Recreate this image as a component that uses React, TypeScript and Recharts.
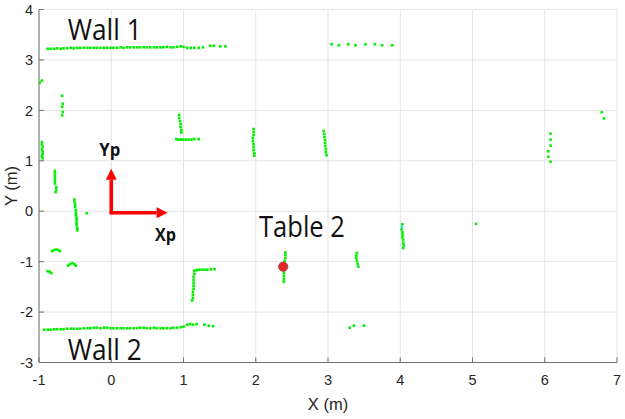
import { ScatterChart, Scatter, XAxis, YAxis, CartesianGrid, ReferenceLine, ReferenceDot } from "recharts";

type Pt = { x: number; y: number };

const xTicks = [-1, 0, 1, 2, 3, 4, 5, 6, 7];
const yTicks = [-3, -2, -1, 0, 1, 2, 3, 4];

const toPts = (rows: number[][]): Pt[] => rows.map(([x, y]) => ({ x, y }));

// scan points
const wall1 = toPts([
  [-0.88, 3.22], [-0.84, 3.22], [-0.79, 3.22], [-0.75, 3.23], [-0.70, 3.22], [-0.66, 3.23], [-0.61, 3.23],
  [-0.56, 3.24], [-0.52, 3.23], [-0.47, 3.24], [-0.43, 3.24], [-0.38, 3.24], [-0.33, 3.24], [-0.29, 3.24],
  [-0.24, 3.24], [-0.20, 3.24], [-0.15, 3.24], [-0.10, 3.24], [-0.06, 3.24], [-0.01, 3.24], [0.03, 3.24],
  [0.08, 3.24], [0.13, 3.25], [0.17, 3.24], [0.22, 3.25], [0.26, 3.25], [0.31, 3.25], [0.36, 3.25],
  [0.40, 3.25], [0.45, 3.25], [0.49, 3.25], [0.54, 3.25], [0.59, 3.25], [0.63, 3.25], [0.68, 3.25],
  [0.72, 3.25], [0.77, 3.26], [0.82, 3.25], [0.86, 3.25], [0.91, 3.26], [0.96, 3.27], [1.00, 3.26],
  [1.05, 3.24], [1.10, 3.24], [1.15, 3.24], [1.21, 3.24], [1.27, 3.25], [1.37, 3.28], [1.42, 3.28],
  [1.51, 3.27], [1.58, 3.27],
]);

const wall2 = toPts([
  [-0.93, -2.35], [-0.88, -2.35], [-0.84, -2.35], [-0.79, -2.34], [-0.75, -2.34], [-0.70, -2.34], [-0.66, -2.34],
  [-0.61, -2.33], [-0.56, -2.33], [-0.52, -2.33], [-0.47, -2.33], [-0.43, -2.33], [-0.38, -2.32], [-0.33, -2.32],
  [-0.29, -2.32], [-0.24, -2.31], [-0.20, -2.31], [-0.15, -2.32], [-0.10, -2.31], [-0.06, -2.31], [-0.01, -2.32],
  [0.03, -2.32], [0.08, -2.32], [0.13, -2.32], [0.17, -2.32], [0.22, -2.32], [0.26, -2.32], [0.31, -2.32],
  [0.36, -2.32], [0.40, -2.31], [0.45, -2.31], [0.49, -2.32], [0.54, -2.32], [0.59, -2.31], [0.63, -2.32],
  [0.68, -2.32], [0.72, -2.32], [0.77, -2.32], [0.82, -2.32], [0.86, -2.31], [0.91, -2.31], [0.96, -2.30],
  [1.00, -2.29], [1.05, -2.25], [1.09, -2.24], [1.13, -2.25], [1.18, -2.24], [1.29, -2.25], [1.35, -2.27],
  [1.41, -2.28],
]);

const leftClutter = toPts([
  [-0.99, 2.55], [-0.96, 2.59],
  [-0.68, 2.29], [-0.67, 2.13], [-0.68, 2.07], [-0.67, 1.97], [-0.68, 1.90],
  [-0.96, 1.37], [-0.96, 1.32], [-0.95, 1.27], [-0.96, 1.22], [-0.95, 1.18], [-0.95, 1.13], [-0.96, 1.09], [-0.95, 1.05],
  [-0.78, 0.80], [-0.78, 0.75], [-0.78, 0.70], [-0.78, 0.65], [-0.78, 0.60], [-0.78, 0.55], [-0.76, 0.48],
  [-0.76, 0.43], [-0.77, 0.38],
  [-0.51, 0.23], [-0.51, 0.18], [-0.50, 0.13], [-0.50, 0.08], [-0.49, 0.02], [-0.49, -0.03], [-0.49, -0.08],
  [-0.48, -0.13], [-0.48, -0.18], [-0.48, -0.23], [-0.48, -0.28], [-0.47, -0.33], [-0.47, -0.38],
  [-0.34, -0.04],
  [-0.82, -0.79], [-0.79, -0.77], [-0.76, -0.76], [-0.73, -0.77], [-0.71, -0.79],
  [-0.60, -1.08], [-0.57, -1.05], [-0.54, -1.03], [-0.51, -1.05], [-0.49, -1.08],
  [-0.88, -1.19], [-0.85, -1.20], [-0.83, -1.23],
]);

const upperCorner = toPts([
  [0.94, 1.91], [0.94, 1.85], [0.95, 1.79], [0.96, 1.73], [0.96, 1.67], [0.97, 1.61], [0.97, 1.56],
  [0.90, 1.43], [0.93, 1.42], [0.96, 1.42], [0.99, 1.42], [1.03, 1.42], [1.07, 1.42], [1.11, 1.42],
  [1.15, 1.43], [1.21, 1.43],
]);

const lowerCorner = toPts([
  [1.15, -1.18], [1.15, -1.24], [1.14, -1.30], [1.14, -1.36], [1.14, -1.42], [1.14, -1.48], [1.14, -1.54],
  [1.13, -1.60], [1.13, -1.66], [1.13, -1.72], [1.12, -1.77],
  [1.18, -1.17], [1.21, -1.16], [1.25, -1.16], [1.29, -1.16], [1.33, -1.16], [1.38, -1.15], [1.43, -1.15],
]);

const posts = toPts([
  [1.97, 1.63], [1.97, 1.57], [1.97, 1.51], [1.96, 1.45], [1.96, 1.39], [1.97, 1.33], [1.97, 1.27],
  [1.97, 1.21], [1.98, 1.15], [1.98, 1.10],
  [2.94, 1.59], [2.95, 1.53], [2.95, 1.47], [2.96, 1.41], [2.96, 1.35], [2.96, 1.29], [2.97, 1.23],
  [2.97, 1.17], [2.98, 1.11],
  [6.08, 1.54], [6.08, 1.42], [6.08, 1.30], [6.05, 1.19], [6.05, 1.08], [6.08, 0.98],
  [6.79, 1.96], [6.82, 1.84],
]);

const table2Scan = toPts([
  [2.41, -0.82], [2.41, -0.87], [2.41, -0.93], [2.40, -0.99], [2.40, -1.05], [2.40, -1.17],
  [2.39, -1.23], [2.39, -1.29], [2.39, -1.35], [2.39, -1.40],
]);

const rightClutter = toPts([
  [3.05, 3.31], [3.15, 3.29], [3.28, 3.31], [3.38, 3.29], [3.52, 3.31], [3.65, 3.31], [3.75, 3.29], [3.89, 3.29],
  [3.40, -0.83], [3.39, -0.88], [3.39, -0.93], [3.40, -0.98], [3.41, -1.04], [3.42, -1.10],
  [4.03, -0.26], [4.02, -0.36], [4.03, -0.42], [4.03, -0.47], [4.03, -0.52],
  [4.04, -0.57], [4.04, -0.63], [4.05, -0.68], [4.04, -0.73],
  [5.05, -0.25],
  [3.30, -2.31], [3.36, -2.27], [3.50, -2.27],
]);

const oddPoint = toPts([[4.02, -0.31]]);
const table2Centre = toPts([[2.38, -1.10]]);

const greenSets = [wall1, wall2, leftClutter, upperCorner, lowerCorner, posts, table2Scan, rightClutter];

const GreenDot = (p: any) => <rect x={p.cx - 1.3} y={p.cy - 1.3} width={2.6} height={2.6} fill="#00f000" />;
const CyanDot = (p: any) => <rect x={p.cx - 1.3} y={p.cy - 1.3} width={2.6} height={2.6} fill="#3fe6e0" />;
const RedDot = (p: any) => <circle cx={p.cx} cy={p.cy} r={4.6} fill="#dd2626" stroke="#b84040" strokeWidth={1} />;

const Arrow = (p: any) => {
  const { x1, y1, x2, y2 } = p;
  const dx = x2 - x1;
  const dy = y2 - y1;
  const len = Math.hypot(dx, dy) || 1;
  const ux = dx / len;
  const uy = dy / len;
  const head = 11;
  const half = 5.5;
  const bx = x2 - ux * head;
  const by = y2 - uy * head;
  return (
    <g>
      <line x1={x1} y1={y1} x2={bx} y2={by} stroke="#ff0000" strokeWidth={3.6} />
      <polygon
        points={`${x2},${y2} ${bx - uy * half},${by + ux * half} ${bx + uy * half},${by - ux * half}`}
        fill="#ff0000"
      />
    </g>
  );
};

const note = (text: string, size: number, width: number, bold = false) => (p: any) => (
  <text
    x={p.cx}
    y={p.cy}
    textAnchor="middle"
    fontFamily="'Open Sans', sans-serif"
    fontSize={size}
    fontWeight={bold ? 700 : 400}
    textLength={width}
    lengthAdjust="spacingAndGlyphs"
    fill="#111"
  >
    {text}
  </text>
);

const YTitle = (p: any) => {
  const vb = p.viewBox || { x: 0, y: 9.5, width: 39, height: 353 };
  const cx = vb.x + 11;
  const cy = vb.y + vb.height / 2;
  return (
    <text x={cx} y={cy} transform={`rotate(-90, ${cx}, ${cy})`} textAnchor="middle" dominantBaseline="central"
      fontFamily="'Liberation Sans', Arial, sans-serif" fontSize={16.5} fill="#262626">
      Y (m)
    </text>
  );
};

const XTitle = (p: any) => {
  const vb = p.viewBox || { x: 39, y: 362.5, width: 578, height: 50 };
  return (
    <text x={vb.x + vb.width / 2} y={vb.y + 47} textAnchor="middle"
      fontFamily="'Liberation Sans', Arial, sans-serif" fontSize={16.5} fill="#262626">
      X (m)
    </text>
  );
};

const tickStyle = { fill: "#262626", fontSize: 14.5, fontFamily: "'Liberation Sans', Arial, sans-serif" };
const axisStroke = "#707070";

export default function App() {
  return (
    <div style={{ position: "absolute", left: 0, top: 0, background: "#fff" }}>
      <ScatterChart width={625} height={419} margin={{ top: 9.5, right: 8, bottom: 6.5, left: 0 }}>
        <CartesianGrid stroke="#e4e4e4" strokeWidth={1} />
        <XAxis
          type="number"
          dataKey="x"
          domain={[-1, 7]}
          ticks={xTicks}
          allowDataOverflow
          height={50}
          tickSize={-5}
          tickMargin={17}
          tick={tickStyle}
          stroke={axisStroke}
          label={<XTitle />}
        />
        <XAxis xAxisId="top" orientation="top" type="number" dataKey="x" domain={[-1, 7]} ticks={xTicks}
          allowDataOverflow height={0} tickSize={-5} tick={false} stroke={axisStroke} />
        <YAxis
          type="number"
          dataKey="y"
          domain={[-3, 4]}
          ticks={yTicks}
          allowDataOverflow
          width={39}
          tickSize={-5}
          tickMargin={11}
          tick={tickStyle}
          stroke={axisStroke}
          label={<YTitle />}
        />
        <YAxis yAxisId="right" orientation="right" type="number" dataKey="y" domain={[-3, 4]} ticks={yTicks}
          allowDataOverflow width={0} tickSize={-5} tick={false} stroke={axisStroke} />
        {greenSets.map((d, i) => (
          <Scatter key={i} data={d} shape={GreenDot} isAnimationActive={false} />
        ))}
        <Scatter data={oddPoint} shape={CyanDot} isAnimationActive={false} />
        <Scatter data={table2Centre} shape={RedDot} isAnimationActive={false} />
        <ReferenceLine segment={[{ x: 0, y: -0.06 }, { x: 0, y: 0.84 }]} shape={Arrow} />
        <ReferenceLine segment={[{ x: -0.02, y: -0.03 }, { x: 0.78, y: -0.03 }]} shape={Arrow} />
        <ReferenceDot x={-0.09} y={3.39} r={0} shape={note("Wall 1", 30, 74)} />
        <ReferenceDot x={-0.09} y={-2.95} r={0} shape={note("Wall 2", 30, 74)} />
        <ReferenceDot x={2.64} y={-0.52} r={0} shape={note("Table 2", 29, 86)} />
        <ReferenceDot x={-0.02} y={1.10} r={0} shape={note("Yp", 18, 21, true)} />
        <ReferenceDot x={0.75} y={-0.59} r={0} shape={note("Xp", 18, 21, true)} />
      </ScatterChart>
    </div>
  );
}
